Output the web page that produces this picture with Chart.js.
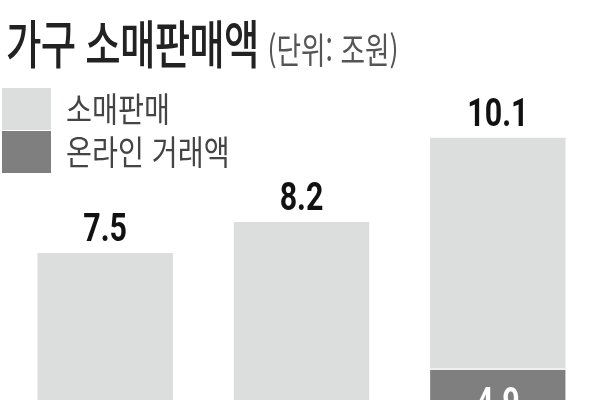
<!DOCTYPE html>
<html lang="ko">
<head>
<meta charset="utf-8">
<title>가구 소매판매액</title>
<script src="https://cdn.jsdelivr.net/npm/chart.js@4.4.1/dist/chart.umd.min.js"></script>
<style>
    html, body {
        margin: 0;
        padding: 0;
        background: #fff;
        overflow: hidden;
    }
    #frame {
        position: relative;
        width: 600px;
        height: 400px;
        overflow: hidden;
        font-family: "Noto Sans CJK KR", "Noto Sans", sans-serif;
    }
    #chart {
        position: absolute;
        left: 0;
        top: 0;
    }
    .title {
        position: absolute;
        left: 6px;
        top: 4px;
        white-space: nowrap;
        transform: scaleX(0.74);
        transform-origin: left top;
        color: #222;
    }
    .title .main {
        font-size: 52px;
        font-weight: 500;
        letter-spacing: -1px;
    }
    .title .unit {
        font-size: 36px;
        color: #555;
        margin-left: 12px;
    }
    .legend {
        position: absolute;
        left: 2px;
        top: 88px;
    }
    .legend .row {
        position: relative;
        height: 42px;
        margin-bottom: 1px;
    }
    .legend .box {
        position: absolute;
        left: 0;
        top: 0;
        width: 49px;
        height: 42px;
    }
    .legend .label {
        position: absolute;
        left: 64px;
        top: -5px;
        font-size: 34px;
        color: #444;
        white-space: nowrap;
        transform: scaleX(0.83);
        transform-origin: left top;
    }
</style>
</head>
<body>
<div id="frame">
    <canvas id="chart" width="600" height="585"></canvas>
    <div class="title"><span class="main">가구 소매판매액</span><span class="unit">(단위: 조원)</span></div>
    <div class="legend" id="legend"></div>
</div>
<script>
// Chart data
const categories = ['A', 'B', 'C'];
const retailSales = [7.5, 8.2, 10.1];
const onlineSales = [null, null, 4.9];

const seriesNames = ['소매판매', '온라인 거래액'];
const seriesColors = ['#dcdddd', '#7f7f7f'];

/**
 * Build the HTML legend (two stacked square swatches)
 */
function buildLegend() {
    const legend = document.getElementById('legend');
    seriesNames.forEach((name, i) => {
        const row = document.createElement('div');
        row.className = 'row';
        row.innerHTML = `<div class="box" style="background:${seriesColors[i]}"></div>` +
            `<div class="label">${name}</div>`;
        legend.appendChild(row);
    });
}

/**
 * Value labels: above the light bars, inside the dark bars
 */
const valueLabels = {
    id: 'valueLabels',
    afterDatasetsDraw(chart) {
        const ctx = chart.ctx;
        ctx.save();
        ctx.font = 'bold 38px Roboto, "Liberation Sans", sans-serif';
        ctx.textAlign = 'center';
        ctx.textBaseline = 'alphabetic';

        chart.data.datasets.forEach((ds, di) => {
            const meta = chart.getDatasetMeta(di);
            meta.data.forEach((bar, i) => {
                const v = ds.data[i];
                if (v === null || v === undefined) return;
                const y = di === 0 ? bar.y - 12 : bar.y + 47;
                ctx.fillStyle = di === 0 ? '#111' : '#fff';
                ctx.save();
                ctx.translate(bar.x, y);
                ctx.scale(0.8, 1);
                ctx.fillText(v.toFixed(1), 0, 0);
                ctx.restore();
            });
        });
        ctx.restore();
    }
};

buildLegend();

new Chart(document.getElementById('chart'), {
    type: 'bar',
    data: {
        labels: categories,
        datasets: [
            {
                label: seriesNames[0],
                data: retailSales,
                backgroundColor: seriesColors[0],
                borderWidth: 0,
                order: 2
            },
            {
                label: seriesNames[1],
                data: onlineSales,
                backgroundColor: seriesColors[1],
                borderColor: '#efefef',
                borderWidth: { top: 2, left: 0, right: 0, bottom: 0 },
                borderSkipped: 'bottom',
                order: 1
            }
        ]
    },
    options: {
        responsive: false,
        animation: false,
        grouped: false,
        barPercentage: 0.69,
        categoryPercentage: 1,
        layout: {
            padding: { top: 98, left: 7, right: 4, bottom: 0 }
        },
        plugins: {
            legend: { display: false },
            tooltip: { enabled: false }
        },
        scales: {
            x: { display: false },
            y: { display: false, min: 0, max: 11 }
        }
    },
    plugins: [valueLabels]
});
</script>
</body>
</html>
